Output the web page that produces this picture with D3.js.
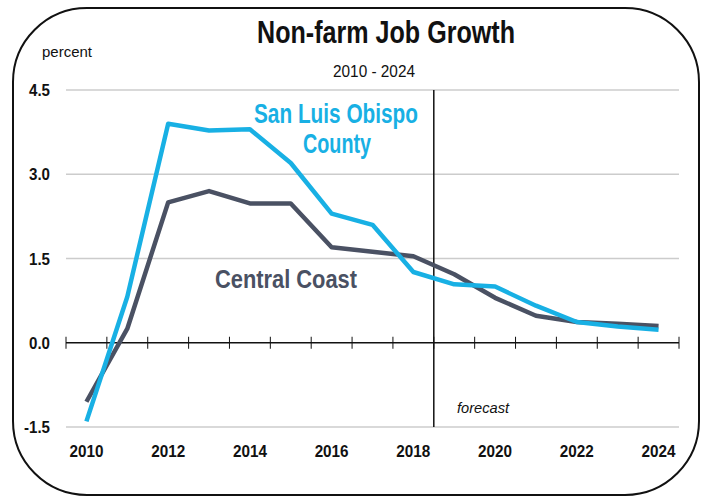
<!DOCTYPE html>
<html>
<head>
<meta charset="utf-8">
<script src="https://cdn.jsdelivr.net/npm/d3@7"></script>
<style>
  html, body { margin: 0; padding: 0; background: #fff; }
  svg { display: block; }
  text { font-family: "Liberation Sans Narrow", "Arial Narrow", "Liberation Sans", Arial, sans-serif; }
</style>
</head>
<body>
<svg id="chart" width="708" height="498"></svg>
<script>
// Annual non-farm job growth, percent
const years = [2010, 2011, 2012, 2013, 2014, 2015, 2016, 2017, 2018, 2019, 2020, 2021, 2022, 2023, 2024];
const sloCounty = [-1.4, 0.82, 3.9, 3.78, 3.8, 3.2, 2.3, 2.1, 1.26, 1.04, 1.0, 0.66, 0.37, 0.29, 0.23];
const centralCoast = [-1.05, 0.25, 2.5, 2.7, 2.48, 2.48, 1.7, 1.62, 1.54, 1.22, 0.8, 0.48, 0.37, 0.34, 0.3];
const yTicks = [-1.5, 0.0, 1.5, 3.0, 4.5];
const xLabelYears = [2010, 2012, 2014, 2016, 2018, 2020, 2022, 2024];
const forecastStart = 2019;

const svg = d3.select("#chart");

// Condensed text: squeeze glyphs to a given width
function label(sel, opts) {
  const t = sel.append("text")
    .attr("x", opts.x).attr("y", opts.y)
    .attr("text-anchor", opts.anchor || "start")
    .attr("font-size", opts.size)
    .attr("font-weight", opts.weight || "normal")
    .attr("font-style", opts.style || "normal")
    .attr("fill", opts.fill || "#111")
    .text(opts.text);
  if (opts.width) t.attr("textLength", opts.width).attr("lengthAdjust", "spacingAndGlyphs");
  return t;
}

// Rounded frame
svg.append("rect")
  .attr("x", 13).attr("y", 8).attr("width", 686).attr("height", 487)
  .attr("rx", 74).attr("ry", 74)
  .attr("fill", "none").attr("stroke", "#111").attr("stroke-width", 2);

const plot = { left: 66, right: 679, top: 90, bottom: 427 };

const x = d3.scaleBand().domain(years).range([plot.left, plot.right]).paddingInner(0).paddingOuter(0);
const xc = d => x(d) + x.bandwidth() / 2;
const y = d3.scaleLinear().domain([-1.5, 4.5]).range([plot.bottom, plot.top]);

// Gridlines
svg.append("g").selectAll("line")
  .data(yTicks.filter(v => v !== 0))
  .join("line")
  .attr("x1", plot.left).attr("x2", plot.right)
  .attr("y1", d => y(d)).attr("y2", d => y(d))
  .attr("stroke", "#cccccc").attr("stroke-width", 1.3);

// Y tick labels
const yLab = svg.append("g");
yTicks.forEach(v => label(yLab, {
  x: 50, y: y(v) + 6, anchor: "end", size: 16, weight: "bold",
  width: v < 0 ? 26 : 21, text: v.toFixed(1)
}));

// Zero axis with ticks at band boundaries
const xAxis = d3.axisBottom(x).tickSizeOuter(0).tickSizeInner(0).tickFormat("");
const zeroAxis = svg.append("g").attr("transform", `translate(0,${y(0)})`).call(xAxis);
zeroAxis.select(".domain").attr("stroke", "#111").attr("stroke-width", 1.5)
  .attr("d", `M${plot.left},0H${plot.right}`);
const boundaries = years.map(d => x(d)).concat([x(years[years.length - 1]) + x.bandwidth()]);
zeroAxis.append("g").selectAll("line")
  .data(boundaries)
  .join("line")
  .attr("x1", d => d).attr("x2", d => d)
  .attr("y1", -6).attr("y2", 6)
  .attr("stroke", "#111").attr("stroke-width", 1);

// X labels
const xLab = svg.append("g");
xLabelYears.forEach(yr => label(xLab, {
  x: xc(yr), y: 457, anchor: "middle", size: 17, weight: "bold", width: 34, text: yr
}));

// Forecast divider
const fx = x(forecastStart);
svg.append("line")
  .attr("x1", fx).attr("x2", fx)
  .attr("y1", plot.top).attr("y2", plot.bottom)
  .attr("stroke", "#111").attr("stroke-width", 1.5);
label(svg, { x: 457, y: 413, size: 15, style: "italic", width: 52, text: "forecast" });

// Series lines
const line = d3.line().x((d, i) => xc(years[i])).y(d => y(d));
svg.append("path").datum(centralCoast)
  .attr("d", line).attr("fill", "none")
  .attr("stroke", "#4a5163").attr("stroke-width", 4.5).attr("stroke-linejoin", "round");
svg.append("path").datum(sloCounty)
  .attr("d", line).attr("fill", "none")
  .attr("stroke", "#18b0e4").attr("stroke-width", 4.5).attr("stroke-linejoin", "round");

// Series labels
label(svg, { x: 336, y: 123, anchor: "middle", size: 27, weight: "bold", fill: "#18b0e4", width: 164, text: "San Luis Obispo" });
label(svg, { x: 337, y: 153, anchor: "middle", size: 27, weight: "bold", fill: "#18b0e4", width: 68, text: "County" });
label(svg, { x: 286, y: 288, anchor: "middle", size: 25, weight: "bold", fill: "#4a5163", width: 142, text: "Central Coast" });

// Titles
label(svg, { x: 386, y: 43, anchor: "middle", size: 32, weight: "bold", width: 258, text: "Non-farm Job Growth" });
label(svg, { x: 374, y: 77, anchor: "middle", size: 16, width: 82, text: "2010 - 2024" });
label(svg, { x: 42, y: 57, size: 15, width: 50, text: "percent" });
</script>
</body>
</html>
